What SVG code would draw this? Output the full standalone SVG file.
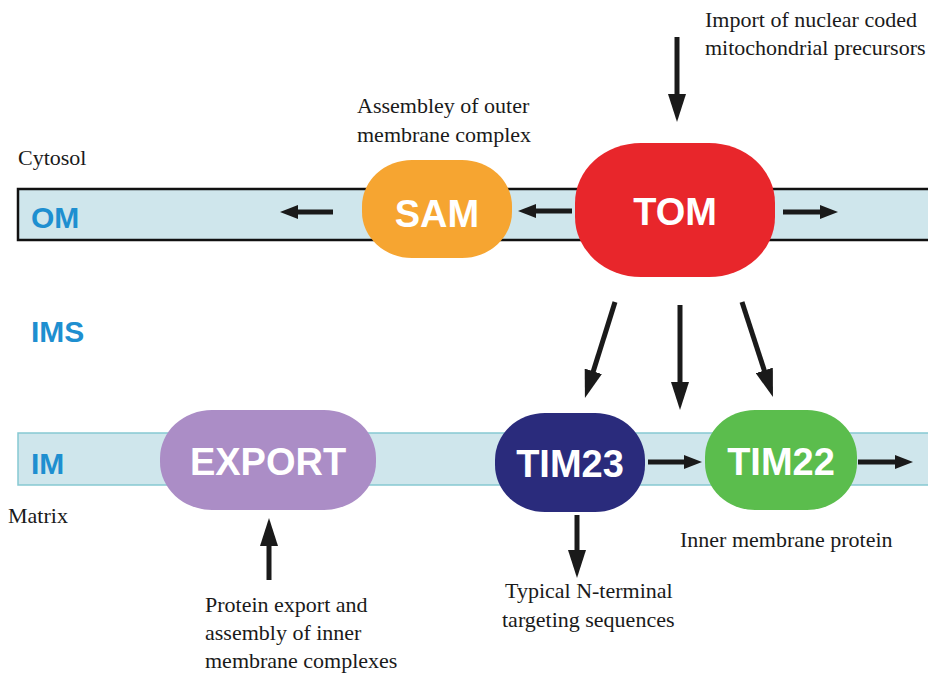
<svg xmlns="http://www.w3.org/2000/svg" width="928" height="674" viewBox="0 0 928 674">
<defs>
<marker id="big" markerUnits="userSpaceOnUse" markerWidth="28" markerHeight="18" refX="2" refY="9" orient="auto"><path d="M0,0 L28,9 L0,18 Z" fill="#1a1a1a"/></marker>
<marker id="small" markerUnits="userSpaceOnUse" markerWidth="18" markerHeight="14" refX="2" refY="7" orient="auto"><path d="M0,0 L18,7 L0,14 Z" fill="#1a1a1a"/></marker>
<style>
.lbl{font-family:"Liberation Serif","Times New Roman",serif;font-size:22px;fill:#1a1a1a}
.zone{font-family:"Liberation Sans",Arial,sans-serif;font-weight:bold;font-size:30px;fill:#1e8fd0}
.nt{font-family:"Liberation Sans",Arial,sans-serif;font-weight:bold;font-size:38px;fill:#ffffff;text-anchor:middle}
.c{stroke:#1a1a1a;stroke-width:5;fill:none}
.cb{marker-end:url(#big)}
.cs{marker-end:url(#small)}
</style>
</defs>
<rect width="928" height="674" fill="#ffffff"/>
<g id="membranes">
<path d="M930,189 L18,189 L18,240 L930,240" fill="#cfe6ec" stroke="#111" stroke-width="2.5"/>
<rect x="18" y="433" width="915" height="52" fill="#cfe6ec" stroke="#86c9d2" stroke-width="1.5"/>
</g>
<g id="zone-labels">
<text class="lbl" x="18" y="165">Cytosol</text>
<text class="zone" x="31" y="228">OM</text>
<text class="zone" x="31" y="342">IMS</text>
<text class="zone" x="31" y="474">IM</text>
<text class="lbl" x="8" y="523">Matrix</text>
</g>
<g id="connectors">
<line class="c cb" x1="677" y1="37" x2="677" y2="96"/>
<line class="c cs" x1="572" y1="211" x2="534" y2="211"/>
<line class="c cs" x1="783" y1="212" x2="822" y2="212"/>
<line class="c cs" x1="333" y1="212" x2="296" y2="212"/>
<line class="c cb" x1="615" y1="302" x2="592.7" y2="373.2"/>
<line class="c cb" x1="680" y1="305" x2="680" y2="384"/>
<line class="c cb" x1="742" y1="302" x2="764.9" y2="372.3"/>
<line class="c cs" x1="648" y1="462" x2="686" y2="462"/>
<line class="c cs" x1="858" y1="462" x2="897" y2="462"/>
<line class="c cb" x1="577" y1="515" x2="577" y2="552"/>
<line class="c cb" x1="269" y1="580" x2="269" y2="544"/>
</g>
<g id="SAM">
<rect x="362" y="160" width="150" height="98" rx="50" ry="46" fill="#f6a531"/>
<text class="nt" x="437" y="227">SAM</text>
</g>
<g id="TOM">
<rect x="575" y="143" width="200" height="134" rx="66" ry="60" fill="#e8262b"/>
<text class="nt" x="675" y="225">TOM</text>
</g>
<g id="EXPORT">
<rect x="160" y="410" width="216" height="100" rx="52" ry="48" fill="#ab8dc6"/>
<text class="nt" x="268" y="475">EXPORT</text>
</g>
<g id="TIM23">
<rect x="495" y="413" width="150" height="99" rx="50" ry="47" fill="#2a2b7c"/>
<text class="nt" x="570" y="477">TIM23</text>
</g>
<g id="TIM22">
<rect x="705" y="410" width="152" height="100" rx="50" ry="47" fill="#5bbd4d"/>
<text class="nt" x="781" y="475">TIM22</text>
</g>
<g id="annotations">
<text class="lbl" x="705" y="27">Import of nuclear coded</text>
<text class="lbl" x="705" y="55">mitochondrial precursors</text>
<text class="lbl" x="357" y="113">Assembley of outer</text>
<text class="lbl" x="357" y="142">membrane complex</text>
<text class="lbl" x="680" y="547">Inner membrane protein</text>
<text class="lbl" x="505" y="598">Typical N-terminal</text>
<text class="lbl" x="502" y="627">targeting sequences</text>
<text class="lbl" x="205" y="612">Protein export and</text>
<text class="lbl" x="205" y="640">assembly of inner</text>
<text class="lbl" x="205" y="668">membrane complexes</text>
</g>
</svg>
